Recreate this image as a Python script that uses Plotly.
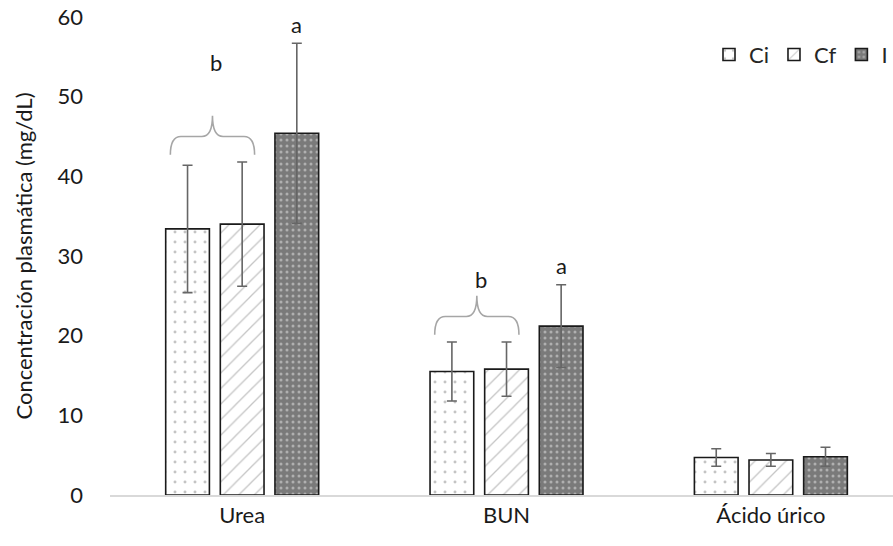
import plotly.graph_objects as go

categories = ["Urea", "BUN", "Ácido úrico"]
series_names = ["Ci", "Cf", "I"]
ci_vals = [33.4, 15.5, 4.7]
cf_vals = [34.0, 15.8, 4.4]
i_vals = [45.4, 21.2, 4.8]
ci_err = [8.0, 3.7, 1.1]
cf_err = [7.8, 3.4, 0.8]
i_err = [11.3, 5.2, 1.2]
y_ticks = [0, 10, 20, 30, 40, 50, 60]

# significance letters: (category index, series index, letter)
sig_a = [(0, 2, "a"), (1, 2, "a")]
brace_groups = [(0, "b", 54.3), (1, "b", 27.0)]  # category idx, letter, label y

values = [ci_vals, cf_vals, i_vals]
errors = [ci_err, cf_err, i_err]

patterns = [
    dict(shape=".", bgcolor="white", fgcolor="#8a8a8a", size=10, solidity=0.07),
    dict(shape="/", bgcolor="white", fgcolor="#8c8c8c", size=11, solidity=0.12),
    dict(shape=".", bgcolor="#7a7a7a", fgcolor="#e6e6e6", size=6, solidity=0.2),
]

FONT = "Lato"
FS = 22
xs = list(range(len(categories)))

fig = go.Figure()
for k, name in enumerate(series_names):
    fig.add_trace(go.Bar(
        x=xs, y=values[k], name=name,
        marker=dict(color=patterns[k]["bgcolor"], line=dict(color="#1a1a1a", width=1.6),
                    pattern=patterns[k]),
        error_y=dict(type="data", array=errors[k], visible=True,
                     color="#666666", thickness=1.6, width=5),
    ))

bargap = 0.38
bargroupgap = 0.2
slot = (1 - bargap) / len(series_names)

def offset(k):
    return -(1 - bargap) / 2 + slot * (k + 0.5)

# braces spanning Ci and Cf
for ci, letter, ly in brace_groups:
    x0 = ci + offset(0) - 0.065
    x1 = ci + offset(1) + 0.047
    xm = (x0 + x1) / 2
    base = max(values[0][ci] + errors[0][ci], values[1][ci] + errors[1][ci]) + 0.9
    yh = base + 2.3
    yt = yh + 2.6
    r = 0.02
    path = (f"M {x0},{base} Q {x0},{yh} {x0 + r*2},{yh} "
            f"L {xm - r*2},{yh} Q {xm},{yh} {xm},{yt} "
            f"Q {xm},{yh} {xm + r*2},{yh} L {x1 - r*2},{yh} Q {x1},{yh} {x1},{base}")
    fig.add_shape(type="path", path=path, xref="x", yref="y",
                  line=dict(color="#a6a6a6", width=1.6))
    fig.add_annotation(x=xm + 0.015, y=ly, text=letter, showarrow=False,
                       font=dict(family=FONT, size=FS, color="#1a1a1a"))

for ci, k, letter in sig_a:
    fig.add_annotation(x=ci + offset(k), y=values[k][ci] + errors[k][ci], text=letter,
                       showarrow=False, yanchor="middle", yshift=19,
                       font=dict(family=FONT, size=FS, color="#1a1a1a"))

fig.update_layout(
    width=893, height=546,
    margin=dict(l=110, r=0, t=17, b=51),
    plot_bgcolor="white", paper_bgcolor="white",
    barmode="group", bargap=bargap, bargroupgap=bargroupgap,
    font=dict(family=FONT, size=FS, color="#262626"),
    showlegend=True,
    legend=dict(orientation="h", x=1.0, xanchor="right", y=0.965, yanchor="top",
                font=dict(family=FONT, size=FS, color="#262626"),
                itemwidth=30, bgcolor="rgba(0,0,0,0)"),
    xaxis=dict(tickvals=xs, ticktext=categories, range=[-0.5, 2.462],
               showline=True, linecolor="#d9d9d9", linewidth=1.5,
               showgrid=False, zeroline=False, ticks="",
               tickfont=dict(family=FONT, size=FS, color="#1a1a1a")),
    yaxis=dict(range=[0, 60], tickvals=y_ticks, showgrid=False, zeroline=False,
               showline=False, ticks="", ticklabelstandoff=26,
               tickfont=dict(family=FONT, size=FS, color="#1a1a1a"),
               title=dict(text="Concentración plasmática (mg/dL)", standoff=18,
                          font=dict(family=FONT, size=FS, color="#1a1a1a"))),
)

fig.write_html("out.html")
